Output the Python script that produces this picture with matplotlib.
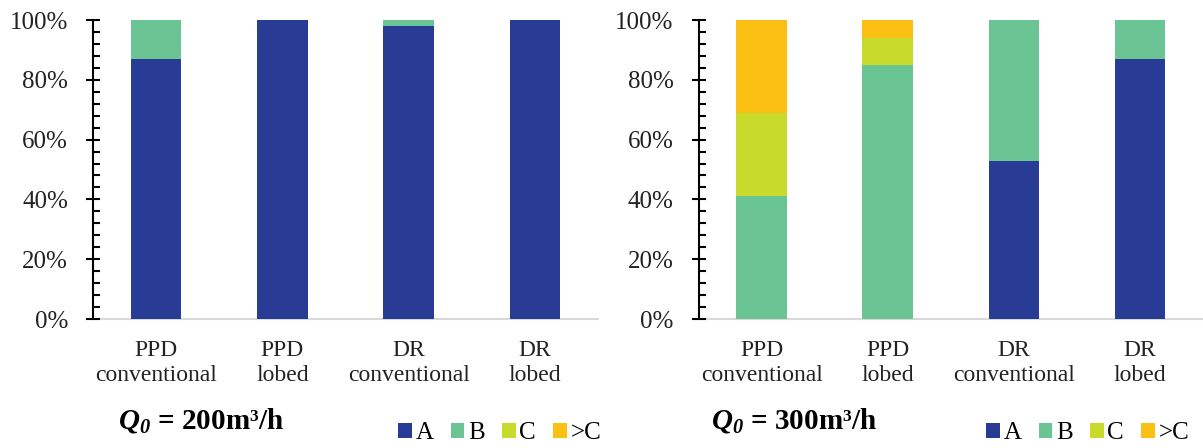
import matplotlib.pyplot as plt
from matplotlib.patches import Patch
from matplotlib.ticker import MultipleLocator

plt.rcParams['font.family'] = ['Liberation Serif', 'DejaVu Serif']
plt.rcParams['mathtext.fontset'] = 'custom'
plt.rcParams['mathtext.rm'] = 'Liberation Serif'
plt.rcParams['mathtext.it'] = 'Liberation Serif:italic'
plt.rcParams['mathtext.bf'] = 'Liberation Serif:bold'
plt.rcParams['mathtext.bfit'] = 'Liberation Serif:bold:italic'

# categories and legend classes
categories = ['PPD\nconventional', 'PPD\nlobed', 'DR\nconventional', 'DR\nlobed']
classes = ['A', 'B', 'C', '>C']
colors = ['#293C95', '#6BC494', '#C8DA2C', '#FCBF14']

# share (%) of each class, Q0 = 200 m3/h
q200_A = [87, 100, 98, 100]
q200_B = [13, 0, 2, 0]
q200_C = [0, 0, 0, 0]
q200_over = [0, 0, 0, 0]

# share (%) of each class, Q0 = 300 m3/h
q300_A = [0, 0, 53, 87]
q300_B = [41, 85, 47, 13]
q300_C = [28, 9, 0, 0]
q300_over = [31, 6, 0, 0]

yticks = [0, 20, 40, 60, 80, 100]
ytick_labels = ['0%', '20%', '40%', '60%', '80%', '100%']

W, H = 1203, 448
fig = plt.figure(figsize=(W / 100, H / 100), dpi=100)


def panel(rect, series, title, title_x, legend_x):
    ax = fig.add_axes(rect)
    x = range(len(categories))
    bottom = [0] * len(categories)
    for vals, c in zip(series, colors):
        ax.bar(x, vals, width=0.4, bottom=bottom, color=c, edgecolor='none')
        bottom = [b + v for b, v in zip(bottom, vals)]

    ax.set_xlim(-0.5, len(categories) - 0.5)
    ax.set_ylim(0, 100)
    ax.set_xticks(list(x))
    ax.set_xticklabels(categories, fontsize=17, linespacing=1.25, color='#222222')
    ax.tick_params(axis='x', length=0, pad=15)

    ax.set_yticks(yticks)
    ax.set_yticklabels(ytick_labels, fontsize=18, color='#222222')
    ax.yaxis.set_minor_locator(MultipleLocator(4))
    ax.tick_params(axis='y', which='major', direction='inout', length=10, width=1.5, pad=13)
    ax.tick_params(axis='y', which='minor', direction='in', length=5, width=1.5)

    for s in ['top', 'right']:
        ax.spines[s].set_visible(False)
    ax.spines['left'].set_linewidth(1.5)
    ax.spines['bottom'].set_color('#D9D9D9')
    ax.spines['bottom'].set_linewidth(1.5)
    ax.spines['bottom'].set_zorder(0.5)

    fig.text(title_x / W, (H - 428) / H, title, fontsize=21, fontweight='bold',
             ha='left', va='baseline')

    handles = [Patch(facecolor=c, edgecolor='none') for c in colors]
    fig.legend(handles, classes, loc='center left',
               bbox_to_anchor=(legend_x / W, (H - 433) / H),
               ncol=4, frameon=False, fontsize=18, handlelength=0.55,
               handleheight=0.55, handletextpad=0.15, columnspacing=0.68,
               borderpad=0, borderaxespad=0)
    return ax


qtitle = r'$\mathbfit{Q}_{\mathbfit{0}}$'
panel([93 / W, (H - 319) / H, 505 / W, 299 / H],
      [q200_A, q200_B, q200_C, q200_over],
      qtitle + ' = 200m³/h', 118, 398)
panel([698.5 / W, (H - 319) / H, 504.5 / W, 299 / H],
      [q300_A, q300_B, q300_C, q300_over],
      qtitle + ' = 300m³/h', 711, 986)

fig.savefig('out.png', dpi=100)
